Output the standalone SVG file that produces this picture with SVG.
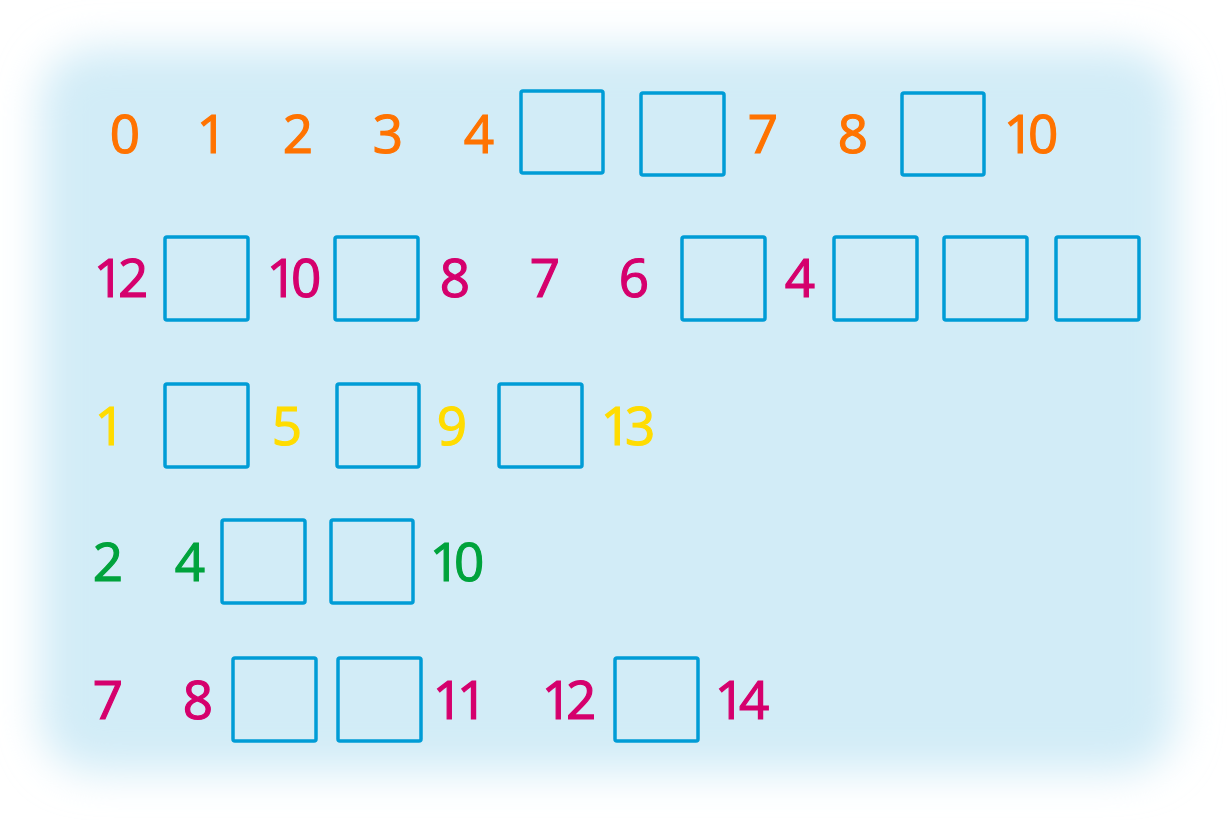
<svg xmlns="http://www.w3.org/2000/svg" width="1228" height="820" viewBox="0 0 1228 820">
<defs>
<filter id="soft" x="-10%" y="-10%" width="120%" height="120%">
<feGaussianBlur stdDeviation="21"/>
</filter>
<style>
.box{fill:none;stroke:#009CD6;stroke-width:3.5}
.n{font-family:"Open Sans","Liberation Sans",sans-serif;font-size:53px;text-anchor:middle;stroke-width:1.2}
.t{letter-spacing:-6px}
.o{fill:#FF7300;stroke:#FF7300}
.m{fill:#D5006D;stroke:#D5006D}
.y{fill:#FFDC00;stroke:#FFDC00}
.g{fill:#00A33C;stroke:#00A33C}
</style>
</defs>
<rect width="1228" height="820" fill="#FFFFFF"/>
<rect x="40" y="48" width="1137" height="724" rx="55" fill="#D2ECF7" filter="url(#soft)"/>
<g id="row1">
<text class="n o" x="125" y="153">0</text>
<text class="n o" x="212" y="153">1</text>
<text class="n o" x="298" y="153">2</text>
<text class="n o" x="388" y="153">3</text>
<text class="n o" x="479" y="153">4</text>
<rect class="box" x="521" y="91" width="82" height="82" rx="2"/>
<rect class="box" x="641" y="93" width="83" height="82" rx="2"/>
<text class="n o" x="763" y="153">7</text>
<text class="n o" x="853" y="153">8</text>
<rect class="box" x="902" y="93" width="82" height="82" rx="2"/>
<text class="n o t" x="1028" y="153">10</text>
</g>
<g id="row2">
<text class="n m t" x="118" y="297">12</text>
<rect class="box" x="165" y="237" width="83" height="83" rx="2"/>
<text class="n m t" x="291" y="297">10</text>
<rect class="box" x="335" y="237" width="83" height="83" rx="2"/>
<text class="n m" x="455" y="297">8</text>
<text class="n m" x="545" y="297">7</text>
<text class="n m" x="634" y="297">6</text>
<rect class="box" x="682" y="237" width="83" height="83" rx="2"/>
<text class="n m" x="800" y="297">4</text>
<rect class="box" x="834" y="237" width="83" height="83" rx="2"/>
<rect class="box" x="944" y="237" width="83" height="83" rx="2"/>
<rect class="box" x="1056" y="237" width="83" height="83" rx="2"/>
</g>
<g id="row3">
<text class="n y" x="110" y="445">1</text>
<rect class="box" x="165" y="384" width="83" height="83" rx="2"/>
<text class="n y" x="287" y="445">5</text>
<rect class="box" x="337" y="384" width="82" height="83" rx="2"/>
<text class="n y" x="452" y="445">9</text>
<rect class="box" x="499" y="384" width="83" height="83" rx="2"/>
<text class="n y t" x="625" y="445">13</text>
</g>
<g id="row4">
<text class="n g" x="108" y="581">2</text>
<text class="n g" x="190" y="581">4</text>
<rect class="box" x="222" y="520" width="83" height="83" rx="2"/>
<rect class="box" x="331" y="520" width="82" height="83" rx="2"/>
<text class="n g t" x="454" y="581">10</text>
</g>
<g id="row5">
<text class="n m" x="108" y="719">7</text>
<text class="n m" x="198" y="719">8</text>
<rect class="box" x="233" y="658" width="83" height="83" rx="2"/>
<rect class="box" x="338" y="658" width="83" height="83" rx="2"/>
<text class="n m t" x="457" y="719">11</text>
<text class="n m t" x="566" y="719">12</text>
<rect class="box" x="615" y="658" width="83" height="83" rx="2"/>
<text class="n m t" x="739" y="719">14</text>
</g>
</svg>
